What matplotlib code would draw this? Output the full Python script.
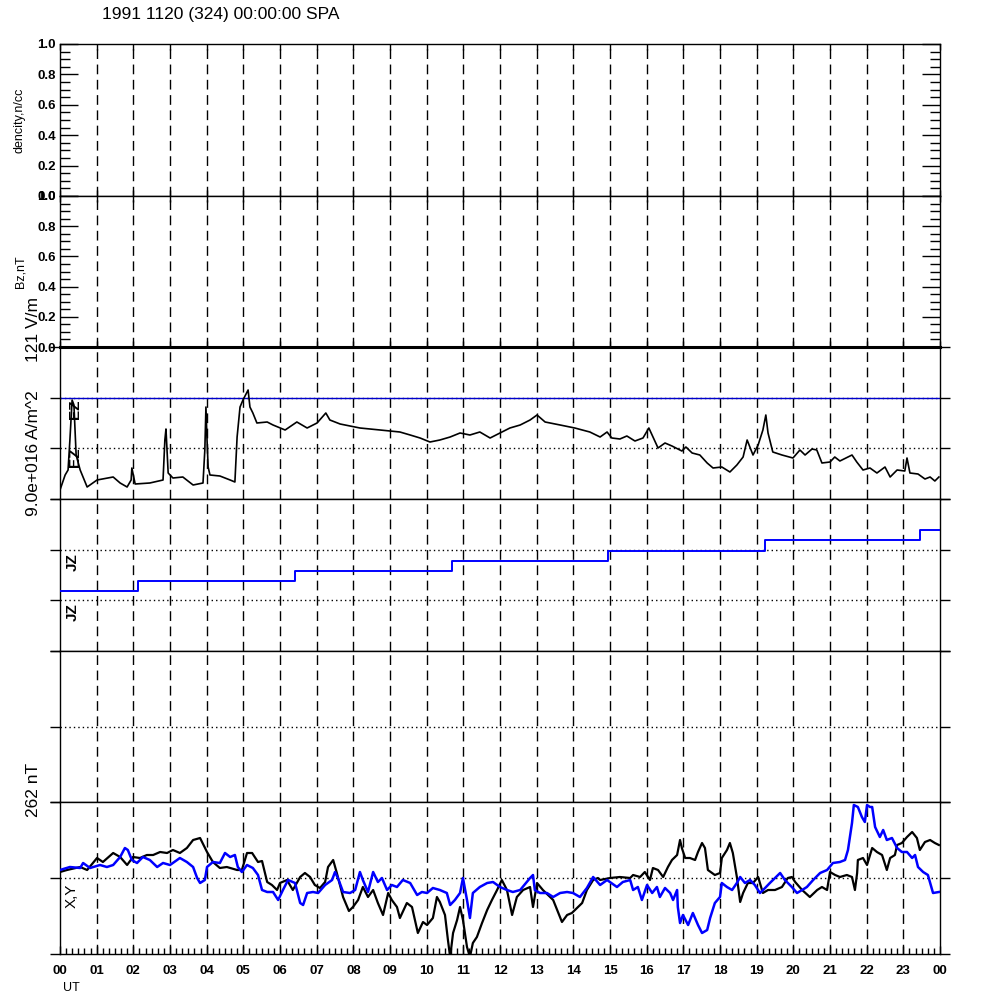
import matplotlib
matplotlib.use('Agg')
import matplotlib.pyplot as plt
from matplotlib.ticker import MultipleLocator

plt.rcParams['font.family'] = ['Liberation Sans', 'DejaVu Sans']

title = '1991 1120 (324) 00:00:00 SPA'

# EZ trace (scaled units, 0 and 1 are the dotted reference levels)
ez_t = [0.00, 0.14, 0.22, 0.27, 0.33, 0.38, 0.44, 0.55, 0.74, 1.01, 1.45, 1.64, 1.83, 1.94, 1.96,
        2.05, 2.45, 2.81, 2.86, 2.89, 2.95, 3.08, 3.35, 3.63, 3.90, 3.95, 3.98, 4.01, 4.04, 4.09,
        4.36, 4.64, 4.77, 4.83, 4.91, 4.99, 5.13, 5.18, 5.26, 5.37, 5.65, 5.81, 6.14, 6.46, 6.74,
        7.01, 7.25, 7.36, 7.64, 8.18, 8.73, 9.27, 9.55, 9.82, 10.09, 10.36, 10.64, 10.91, 11.18,
        11.45, 11.73, 12.00, 12.27, 12.55, 12.82, 13.01, 13.23, 13.64, 14.04, 14.45, 14.73, 14.92,
        15.05, 15.27, 15.46, 15.68, 15.90, 16.06, 16.31, 16.50, 16.69, 16.96, 17.07, 17.24, 17.45,
        17.65, 17.81, 18.05, 18.27, 18.46, 18.63, 18.74, 18.90, 19.04, 19.17, 19.25, 19.31, 19.44,
        19.69, 19.99, 20.18, 20.32, 20.51, 20.64, 20.78, 21.00, 21.13, 21.27, 21.60, 21.73, 21.90,
        22.09, 22.28, 22.50, 22.64, 22.83, 23.04, 23.10, 23.18, 23.40, 23.59, 23.73, 23.86, 23.97]
ez_v = [-0.84, -0.54, -0.44, 0.16, 0.96, 0.86, -0.14, -0.44, -0.78, -0.64, -0.58, -0.70, -0.78, -0.64, -0.40,
        -0.72, -0.70, -0.64, 0.16, 0.38, -0.50, -0.60, -0.58, -0.74, -0.70, -0.04, 0.82, 0.16, -0.38, -0.54,
        -0.56, -0.64, -0.68, 0.22, 0.82, 0.96, 1.16, 0.82, 0.70, 0.50, 0.52, 0.46, 0.36, 0.52, 0.40,
        0.50, 0.70, 0.56, 0.48, 0.40, 0.36, 0.32, 0.26, 0.20, 0.12, 0.16, 0.22, 0.30, 0.26,
        0.32, 0.20, 0.30, 0.40, 0.46, 0.56, 0.66, 0.52, 0.46, 0.40, 0.32, 0.22, 0.32,
        0.20, 0.18, 0.24, 0.14, 0.20, 0.40, 0.00, 0.10, 0.04, -0.06, 0.02, -0.10, -0.14,
        -0.30, -0.40, -0.38, -0.48, -0.34, -0.18, 0.16, -0.14, 0.06, 0.36, 0.66, 0.30, -0.08,
        -0.14, -0.20, -0.04, -0.14, -0.02, -0.04, -0.30, -0.28, -0.18, -0.26, -0.14, -0.28, -0.44,
        -0.40, -0.50, -0.38, -0.58, -0.44, -0.46, -0.20, -0.50, -0.52, -0.62, -0.58, -0.66, -0.58]

# JZ staircase
jz_t = [0.00, 2.13, 6.41, 10.69, 14.95, 19.23, 23.45, 24.00]
jz_v = [0.18, 0.38, 0.58, 0.78, 0.98, 1.20, 1.40, 1.40]

# X component (black)
bx_t = [0.00, 0.19, 0.55, 0.74, 1.01, 1.17, 1.45, 1.64, 1.83, 1.99, 2.18, 2.37, 2.54, 2.73, 2.92,
        3.08, 3.27, 3.46, 3.63, 3.82, 4.01, 4.17, 4.36, 4.55, 4.83, 4.96, 5.10, 5.24, 5.40, 5.51,
        5.65, 5.78, 5.92, 6.00, 6.19, 6.35, 6.55, 6.68, 6.82, 6.95, 7.09, 7.23, 7.31, 7.45, 7.55,
        7.72, 7.88, 7.99, 8.13, 8.26, 8.40, 8.54, 8.67, 8.81, 8.95, 9.05, 9.19, 9.27, 9.46, 9.60,
        9.76, 9.90, 10.01, 10.17, 10.28, 10.36, 10.50, 10.58, 10.64, 10.72, 10.83, 10.91, 10.99,
        11.10, 11.18, 11.26, 11.37, 11.51, 11.65, 11.78, 11.92, 12.05, 12.19, 12.33, 12.46, 12.63,
        12.82, 12.90, 13.01, 13.17, 13.45, 13.69, 13.83, 13.96, 14.10, 14.24, 14.37, 14.54, 14.67,
        14.73, 15.00, 15.27, 15.55, 15.63, 15.82, 15.95, 16.09, 16.17, 16.31, 16.45, 16.58, 16.69,
        16.83, 16.91, 16.96, 17.05, 17.18, 17.32, 17.40, 17.51, 17.59, 17.67, 17.86, 18.00, 18.05,
        18.19, 18.27, 18.35, 18.46, 18.55, 18.63, 18.76, 18.90, 19.04, 19.17, 19.31, 19.50, 19.69,
        19.85, 19.96, 20.05, 20.24, 20.45, 20.65, 20.78, 20.92, 21.00, 21.14, 21.27, 21.46, 21.60,
        21.68, 21.74, 21.76, 21.90, 22.01, 22.15, 22.28, 22.42, 22.55, 22.64, 22.77, 22.83, 22.96,
        23.10, 23.24, 23.37, 23.45, 23.59, 23.73, 23.86, 23.97]
bx_v = [12, 16, 22, 16, 40, 32, 50, 42, 26, 42, 40, 46, 46, 52, 50,
        56, 50, 60, 76, 80, 52, 32, 20, 22, 16, 16, 50, 50, 32, 34,
        -8, -14, -24, -10, -4, -24, 2, 10, 2, -14, -20, -8, 22, 36, 10,
        -38, -66, -58, -44, -18, -38, -24, -50, -74, -30, -44, -58, -80, -50, -58,
        -110, -88, -94, -80, -38, -48, -74, -124, -158, -110, -84, -58, -84,
        -138, -158, -130, -118, -90, -64, -44, -24, -4, -24, -74, -38, -24,
        -18, -58, -10, -24, -44, -88, -74, -70, -60, -50, -24, -4, 0,
        -4, 0, 2, 0, 6, 2, 12, -4, 20, 16, 2, 22, 36,
        46, 76, 60, 40, 40, 36, 52, 70, 60, 16, 6, 10, 40,
        56, 70, 50, 2, -48, -30, -10, -10, 2, -30, -24, -24, -18,
        0, 2, -8, -24, -38, -24, -18, -24, 12, 6, 2, 6, 2,
        -24, 10, 36, 40, 26, 60, 52, 46, 16, 40, 46, 66, 70,
        82, 92, 80, 56, 72, 76, 70, 66]

# Y component (blue)
by_t = [0.00, 0.27, 0.55, 0.63, 0.82, 1.09, 1.28, 1.45, 1.64, 1.77, 1.85, 1.96, 2.10, 2.26, 2.45,
        2.65, 2.81, 3.00, 3.27, 3.46, 3.63, 3.74, 3.82, 3.95, 4.01, 4.17, 4.36, 4.50, 4.64, 4.77,
        4.85, 4.96, 5.10, 5.26, 5.40, 5.51, 5.65, 5.81, 5.95, 6.08, 6.22, 6.41, 6.55, 6.63, 6.74,
        6.90, 7.04, 7.23, 7.42, 7.50, 7.58, 7.72, 7.91, 8.05, 8.18, 8.26, 8.40, 8.54, 8.67, 8.78,
        8.92, 9.05, 9.19, 9.35, 9.55, 9.74, 9.87, 10.01, 10.17, 10.36, 10.55, 10.64, 10.77, 10.91,
        10.99, 11.10, 11.18, 11.26, 11.45, 11.65, 11.81, 12.00, 12.19, 12.35, 12.55, 12.82, 12.90,
        12.95, 13.09, 13.28, 13.45, 13.64, 13.83, 13.99, 14.18, 14.37, 14.54, 14.73, 14.92, 15.19,
        15.35, 15.55, 15.63, 15.76, 15.87, 16.01, 16.15, 16.28, 16.36, 16.50, 16.64, 16.72, 16.83,
        16.85, 16.91, 16.99, 17.13, 17.26, 17.40, 17.51, 17.65, 17.73, 17.86, 18.00, 18.05, 18.19,
        18.33, 18.46, 18.55, 18.68, 18.82, 18.95, 19.09, 19.23, 19.36, 19.50, 19.64, 19.77, 19.96,
        20.10, 20.24, 20.37, 20.54, 20.73, 20.92, 21.08, 21.27, 21.41, 21.49, 21.60, 21.65, 21.76,
        21.87, 21.95, 22.01, 22.09, 22.15, 22.23, 22.36, 22.45, 22.55, 22.69, 22.83, 22.96, 23.10,
        23.24, 23.32, 23.40, 23.54, 23.67, 23.81, 23.97]
by_v = [16, 22, 20, 30, 20, 26, 22, 26, 42, 60, 56, 36, 30, 42, 36,
        22, 30, 26, 40, 32, 22, 0, -10, -4, 22, 32, 30, 50, 42, 46,
        22, 12, 26, 20, 6, -24, -28, -28, -44, -24, -4, -10, -50, -54, -30,
        -28, -30, -14, -4, 12, 0, -28, -30, -24, 12, -4, -28, 12, -8, 0,
        -24, -14, -18, -4, -10, -34, -28, -30, -20, -24, -30, -54, -44, -30,
        0, -44, -80, -30, -18, -10, -8, -18, -24, -28, -24, 0, 6,
        -24, -30, -30, -38, -30, -28, -30, -38, -20, 2, -14, -4, -18,
        -8, -4, -24, -18, -44, -14, -30, -18, -38, -20, -30, -44, -24,
        -58, -90, -74, -94, -70, -94, -110, -104, -80, -50, -38, -10, -18,
        -24, -10, 2, -10, -4, -14, -30, -20, -10, 0, 10, -4, -18,
        -30, -24, -18, -4, 10, 16, 30, 32, 36, 56, 110, 146, 142,
        122, 112, 146, 142, 142, 102, 82, 96, 76, 80, 60, 52, 52,
        40, 46, 22, 12, 6, -30, -28]

hours = list(range(25))
hour_labels = ['%02d' % (h % 24) for h in hours]

fig = plt.figure(figsize=(10, 10), dpi=100)
edges = [44, 196, 347, 499, 651, 802, 954]   # panel borders, px from top
axs = []
for i in range(6):
    top, bot = edges[i], edges[i + 1]
    ax = fig.add_axes([0.06, 1 - bot / 1000, 0.88, (bot - top) / 1000])
    ax.set_xlim(0, 24)
    for h in range(1, 24):
        ax.axvline(h, color='k', lw=1, ls=(0, (7, 4)), zorder=1)
    for s in ax.spines.values():
        s.set_linewidth(1)
    ax.set_xticks(hours)
    ax.tick_params(axis='x', which='both', direction='in', top=True, bottom=True,
                   labelbottom=False, length=4, width=1)
    axs.append(ax)

# empty top panels
for ax in axs[:2]:
    ax.set_ylim(0, 1)
    ax.set_yticks([0, 0.2, 0.4, 0.6, 0.8, 1.0])
    ax.set_yticklabels(['0.0', '0.2', '0.4', '0.6', '0.8', '1.0'])
    ax.yaxis.set_minor_locator(MultipleLocator(0.05))
    ax.tick_params(axis='y', which='major', direction='in', left=True, right=True,
                   length=13, width=1, labelsize=9.5, pad=3)
    ax.tick_params(axis='y', which='minor', direction='in', left=True, right=True,
                   length=7, width=1)
    for lab in ax.get_yticklabels():
        lab.set_fontweight('bold')

# lower panels
lims = [(-1.02, 2.02), (-1.02, 2.02), (-1.0, 1.0), (-152, 152)]
refs = [[0, 1], [0, 1], [0], [0]]
for ax, lim, ref in zip(axs[2:], lims, refs):
    ax.set_ylim(*lim)
    ax.set_yticks([lim[0]] + ref + [lim[1]])
    ax.tick_params(axis='y', direction='out', left=True, right=True, length=7,
                   width=1, labelleft=False)
    for r in ref:
        ax.axhline(r, color='k', lw=1, ls=(0, (1, 2.2)), zorder=1)
    ax.tick_params(axis='x', which='both', top=False, bottom=False)

axs[2].spines['top'].set_linewidth(2.2)
axs[2].axhline(1, color='#0000cc', lw=1, zorder=2)
axs[2].plot(ez_t, ez_v, color='k', lw=1.2, zorder=3)
axs[3].step(jz_t, jz_v, where='post', color='#0000ff', lw=1.4, zorder=3)
axs[5].plot(bx_t, bx_v, color='k', lw=1.6, zorder=3)
axs[5].plot(by_t, by_v, color='#0000ff', lw=1.8, zorder=3)

# bottom time axis
ax = axs[5]
ax.set_xticks(hours)
ax.set_xticklabels(hour_labels)
ax.xaxis.set_minor_locator(MultipleLocator(1 / 6))
ax.tick_params(axis='x', which='major', direction='in', bottom=True, top=False,
               labelbottom=True, length=6, width=1, labelsize=9.5, pad=8)
ax.tick_params(axis='x', which='minor', direction='in', bottom=True, top=False,
               length=4, width=1)
for lab in ax.get_xticklabels():
    lab.set_fontweight('bold')

fig.text(0.102, 0.985, title, fontsize=12.5, ha='left', va='center')
fig.text(0.063, 0.012, 'UT', fontsize=9, ha='left', va='center')
fig.text(0.020, 0.880, 'dencity,n/cc', fontsize=9, rotation=90, ha='center', va='center')
fig.text(0.020, 0.728, 'Bz,nT', fontsize=9, rotation=90, ha='center', va='center')
fig.text(0.033, 0.671, '121 V/m', fontsize=12.5, rotation=90, ha='center', va='center')
fig.text(0.033, 0.547, '9.0e+016 A/m^2', fontsize=12.5, rotation=90, ha='center', va='center')
fig.text(0.075, 0.591, 'EZ', fontsize=11, fontweight='bold', rotation=90, ha='center', va='center')
fig.text(0.075, 0.543, 'EZ', fontsize=11, fontweight='bold', rotation=90, ha='center', va='center')
fig.text(0.073, 0.438, 'JZ', fontsize=11, fontweight='bold', rotation=90, ha='center', va='center')
fig.text(0.073, 0.388, 'JZ', fontsize=11, fontweight='bold', rotation=90, ha='center', va='center')
fig.text(0.033, 0.210, '262 nT', fontsize=12.5, rotation=90, ha='center', va='center')
fig.text(0.072, 0.104, 'X,Y', fontsize=11, rotation=90, ha='center', va='center')

fig.savefig('out.png', dpi=100)
